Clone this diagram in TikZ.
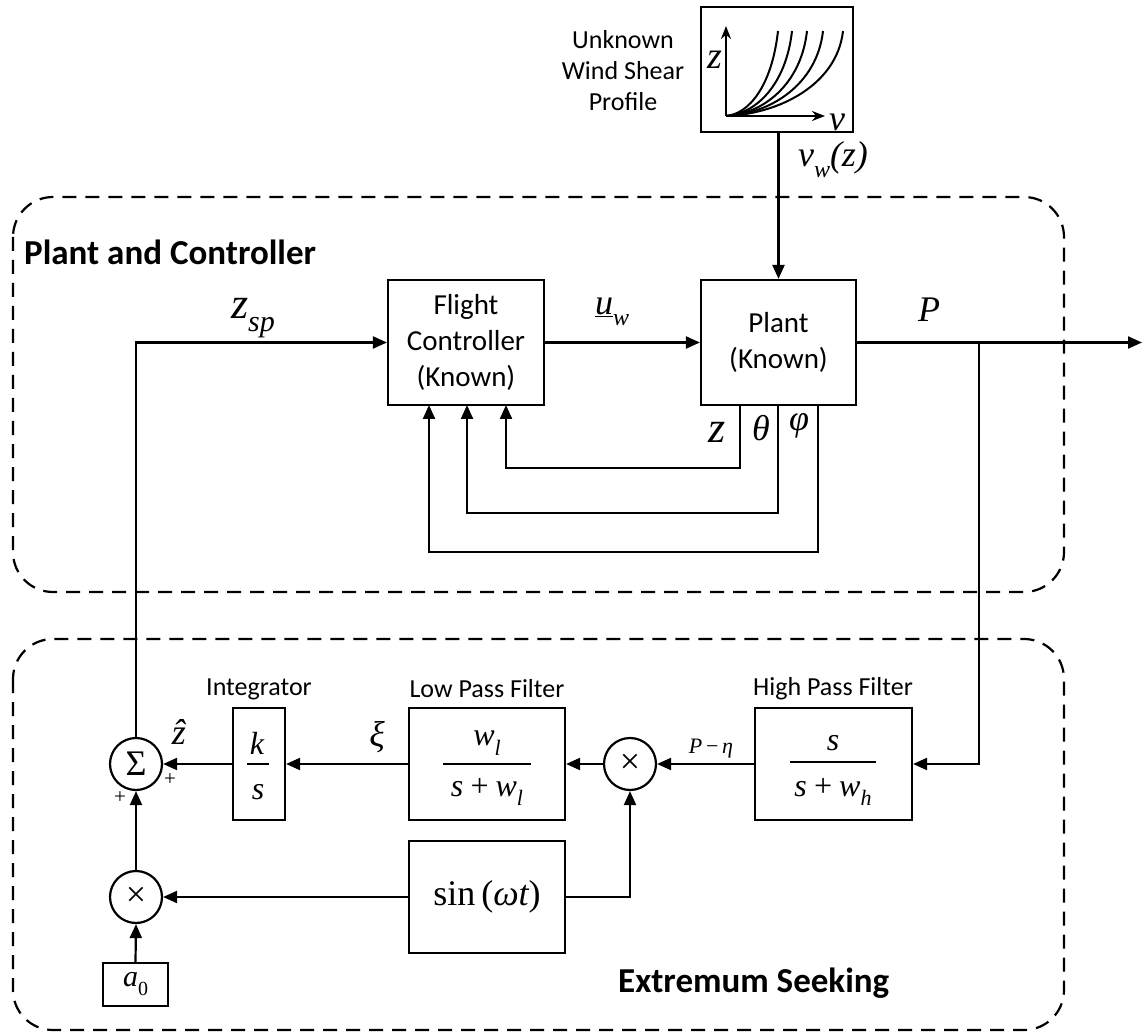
\documentclass[tikz,border=0pt]{standalone}
\usepackage{fontspec}
\setmainfont{Carlito}
\newfontfamily\tms{Liberation Serif}
\usetikzlibrary{arrows.meta}
\newcommand\lo[2][22]{\raisebox{-0.3em}{\fontsize{#1}{#1}\selectfont #2}}
\tikzset{
 blk/.style={draw, line width=2.2pt, inner sep=0pt, align=center, font=\fontsize{29}{36}\selectfont},
 cir/.style={draw, circle, line width=2.2pt, inner sep=0pt, minimum size=52pt},
 arr/.style={line width=2.2pt, -{Triangle[length=14pt,width=12pt]}},
 wire/.style={line width=2.2pt},
 lab/.style={inner sep=0pt, font=\fontsize{26}{31}\selectfont, align=center},
 ttl/.style={inner sep=0pt, anchor=west, font=\bfseries\fontsize{35}{40}\selectfont},
 mth/.style={inner sep=0pt, font=\tms\itshape\fontsize{36}{40}\selectfont},
 zed/.style={inner sep=0pt, font=\tms\itshape\fontsize{44}{46}\selectfont},
 frm/.style={inner sep=0pt, font=\tms\itshape\fontsize{32}{36}\selectfont},
 sml/.style={inner sep=0pt, font=\tms\fontsize{21}{24}\selectfont},
 grp/.style={draw, dash pattern=on 14pt off 9pt, line width=2.2pt, rounded corners=40pt},
 ax/.style={line width=2.2pt, -{Stealth[length=13pt,width=10pt]}},
 crv/.style={line width=2pt},
}
\begin{document}
\begin{tikzpicture}[x=1pt,y=-1pt]
\useasboundingbox (0,0) rectangle (1144,1032);
% groups
\draw[grp] (13,197) rectangle (1064,592);
\draw[grp] (13,639) rectangle (1064,1030);
\node[ttl] (tpc) at (24,252) {Plant and Controller};
\node[ttl] (tes) at (618,983) {Extremum Seeking};

% wind shear box
\node[blk, minimum width=152pt, minimum height=125pt] (wind) at (777,69.5) {};
\node[lab] (wlab) at (623,71) {Unknown\\Wind Shear\\Profile};
\coordinate (o) at (726,116);
\coordinate (zt) at (726,26);
\coordinate (vt) at (825,116);
\draw[ax] (o) -- (zt);
\draw[ax] (o) -- (vt);
\node[zed, font=\tms\itshape\fontsize{38}{40}\selectfont] (zl) at (715,60) {z};
\node[mth] (vl) at (837,122) {v};
\foreach \X in {778,792,807,823,843}{
  \draw[crv] (o) .. controls ({726+0.45*(\X-726)},114) and ({\X-6},85) .. (\X,31);
}

% plant and controller
\node[blk, minimum width=156pt, minimum height=125pt] (fc) at (466,342.5) {Flight\\Controller\\(Known)};
\node[blk, minimum width=155pt, minimum height=125pt] (plant) at (778.5,342.5) {Plant\\(Known)};
\draw[arr] (wind.south -| plant.north) -- (plant.north);
\node[mth] (vw) at (833,160) {v\lo[24]{w}({z})};

\draw[arr] (fc.east) -- (plant.west);
\node[mth] (uw) at (612,312) {\underline{u}\lo[24]{w}};

\coordinate (out) at (1142,342.5);
\coordinate (br) at (979,342.5);
\draw[arr] (plant.east) -- (out);
\node[mth] (pl) at (929,310) {P};

% feedback lines
\coordinate (pz) at (740,405);
\coordinate (pt) at (778,405);
\coordinate (pp) at (818,405);
\coordinate (fz) at (506,405);
\coordinate (ft) at (467,405);
\coordinate (fp) at (429,405);
\draw[arr] (pz) -- ++(0,63) -| (fz);
\draw[arr] (pt) -- ++(0,108) -| (ft);
\draw[arr] (pp) -- ++(0,147) -| (fp);
\node[zed] (zlab) at (717,432) {z};
\node[mth] (tlab) at (761,428) {θ};
\node[mth] (flab) at (799,426) {φ};

% extremum seeking
\node[cir, font=\tms\fontsize{36}{40}\selectfont] (sum) at (136,764) {Σ};
\node[blk, minimum width=52pt, minimum height=112pt] (integ) at (259,764) {};
\node[blk, minimum width=156pt, minimum height=112pt] (lpf) at (487,764) {};
\node[cir, font=\tms\fontsize{36}{40}\selectfont] (m1) at (630,764) {×};
\node[blk, minimum width=157pt, minimum height=112pt] (hpf) at (833.5,764) {};
\node[cir, font=\tms\fontsize{36}{40}\selectfont] (m2) at (136,897) {×};
\node[blk, minimum width=156pt, minimum height=112pt, font=\tms\fontsize{36}{40}\selectfont] (sin) at (487,897) {sin\,({\itshape ωt})};
\node[blk, minimum width=65pt, minimum height=43pt, font=\tms\itshape\fontsize{30}{32}\selectfont] (a0) at (135.5,984.5) {a\lo[20]{\upshape 0}};

\node[lab] (li) at (259,689) {Integrator};
\node[lab] (ll) at (487,689) {Low Pass Filter};
\node[lab] (lh) at (833,689) {High Pass Filter};

% fractions
\node[frm] (kn) at (257,743) {k};
\draw[wire] (247,764) -- (269,764);
\node[frm] (kd) at (258,792) {s};
\node[frm] (ln) at (487,743) {w\lo[22]{l}};
\draw[wire] (443,764) -- (531,764);
\node[frm] (ld) at (487,792) {s\,+\,w\lo[22]{l}};
\node[frm] (hn) at (833,743) {s};
\draw[wire] (790,762) -- (876,762);
\node[frm] (hd) at (833,792) {s\,+\,w\lo[22]{h}};

% connectors
\draw[arr] (br) |- (hpf.east);
\draw[arr] (hpf.west) -- (m1.east);
\draw[arr] (m1.west) -- (lpf.east);
\draw[arr] (lpf.west) -- (integ.east);
\draw[arr] (integ.west) -- (sum.east);
\draw[arr] (sin.east) -| (m1.south);
\draw[arr] (sin.west) -- (m2.east);
\draw[arr] (a0.north) -- (m2.south);
\draw[arr] (m2.north) -- (sum.south);
\draw[arr] (sum.north) |- (fc.west);
\node[zed] (zsp) at (253,318) {z\lo[30]{sp}};

\node[mth] (zh) at (179,732) {\^z};
\node[mth] (xi) at (377,737) {ξ};
\node[sml, font=\tms\itshape\fontsize{22}{24}\selectfont] (pe) at (711,749) {P\,{\upshape −}\,η};
\node[sml] (p1) at (170,780) {+};
\node[sml] (p2) at (120,798) {+};
\end{tikzpicture}
\end{document}
